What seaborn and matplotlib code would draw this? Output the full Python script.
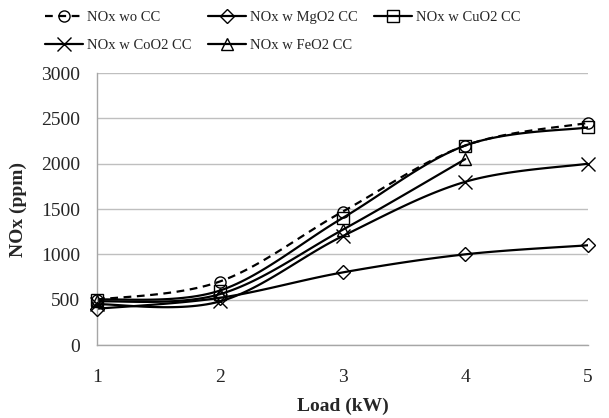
import numpy as np
import pandas as pd
import seaborn as sns
import matplotlib.pyplot as plt
from matplotlib.lines import Line2D

# data
load_kw = [1, 2, 3, 4, 5]
nox_wo_cc = [500, 700, 1470, 2200, 2450]
nox_mgo2 = [400, 520, 800, 1000, 1100]
nox_cuo2 = [500, 600, 1400, 2200, 2400]
nox_coo2 = [450, 480, 1200, 1800, 2000]
load_feo2 = [1, 2, 3, 4]
nox_feo2 = [480, 560, 1270, 2050]

series = [
    ("NOx wo CC", load_kw, nox_wo_cc, "o", (0, (3.5, 2.5))),
    ("NOx w MgO2 CC", load_kw, nox_mgo2, "D", "-"),
    ("NOx w CuO2 CC", load_kw, nox_cuo2, "s", "-"),
    ("NOx w CoO2 CC", load_kw, nox_coo2, "x", "-"),
    ("NOx w FeO2 CC", load_feo2, nox_feo2, "^", "-"),
]


def smooth(xs, ys, n=30):
    # Excel-style smoothed line (cubic Bezier through the points)
    p = np.column_stack([xs, ys]).astype(float)
    p = np.vstack([p[0], p, p[-1]])
    out = []
    for i in range(1, len(p) - 2):
        p0, p1, p2, p3 = p[i - 1], p[i], p[i + 1], p[i + 2]
        b1 = p1 + (p2 - p0) / 6
        b2 = p2 - (p3 - p1) / 6
        t = np.linspace(0, 1, n)[:, None]
        seg = ((1 - t) ** 3) * p1 + 3 * ((1 - t) ** 2) * t * b1 + 3 * (1 - t) * t ** 2 * b2 + t ** 3 * p2
        out.append(seg if i == 1 else seg[1:])
    out = np.vstack(out)
    return out[:, 0], out[:, 1]


sns.set_style("white")
plt.rcParams["font.family"] = ["Liberation Serif", "DejaVu Serif"]

fig = plt.figure(figsize=(6.09, 4.18), dpi=100)
ax = fig.add_axes([97 / 609, 1 - 345 / 418, 491 / 609, 272 / 418])

handles = []
for name, xs, ys, mk, ls in series:
    sx, sy = smooth(xs, ys)
    df = pd.DataFrame({"x": sx, "y": sy})
    sns.lineplot(data=df, x="x", y="y", ax=ax, sort=False, color="black",
                 linewidth=1.6, linestyle=ls, estimator=None)
    ms = 9.5 if mk == "x" else (8 if mk != "D" else 7.5)
    ax.plot(xs, ys, linestyle="none", marker=mk, markersize=ms,
            markerfacecolor="none", markeredgecolor="black",
            markeredgewidth=1.0, clip_on=False, zorder=5)
    handles.append(Line2D([0], [0], color="black", linewidth=1.6, linestyle=ls,
                          marker=mk, markersize=ms, markerfacecolor="none",
                          markeredgewidth=1.0, label=name))

ax.set_xlim(1, 5)
ax.set_ylim(0, 3000)
ax.set_xticks(load_kw)
ax.set_yticks(range(0, 3001, 500))
ax.yaxis.grid(True, color="#bfbfbf", linewidth=1.0)
ax.set_axisbelow(True)
for s in ["top", "right"]:
    ax.spines[s].set_visible(False)
for s in ["left", "bottom"]:
    ax.spines[s].set_color("#a6a6a6")
    ax.spines[s].set_linewidth(1.0)
ax.tick_params(axis="both", which="both", direction="out", length=5,
               color="#a6a6a6", labelsize=14, pad=7)
ax.tick_params(axis="x", pad=12)
ax.set_xlabel("Load (kW)", fontsize=14, fontweight="bold", labelpad=9)
ax.set_ylabel("NOx (ppm)", fontsize=14, fontweight="bold", labelpad=10)

# row-major legend order for ncol=3
order = [0, 3, 1, 4, 2]
fig.legend(handles=[handles[i] for i in order], ncol=3, loc="upper left",
           bbox_to_anchor=(45 / 609, 1 - 11 / 418), frameon=False, fontsize=10.5,
           handlelength=2.6, handletextpad=0.3, columnspacing=1.1,
           labelspacing=1.0, borderpad=0, borderaxespad=0)

plt.savefig("out.png", dpi=100)
